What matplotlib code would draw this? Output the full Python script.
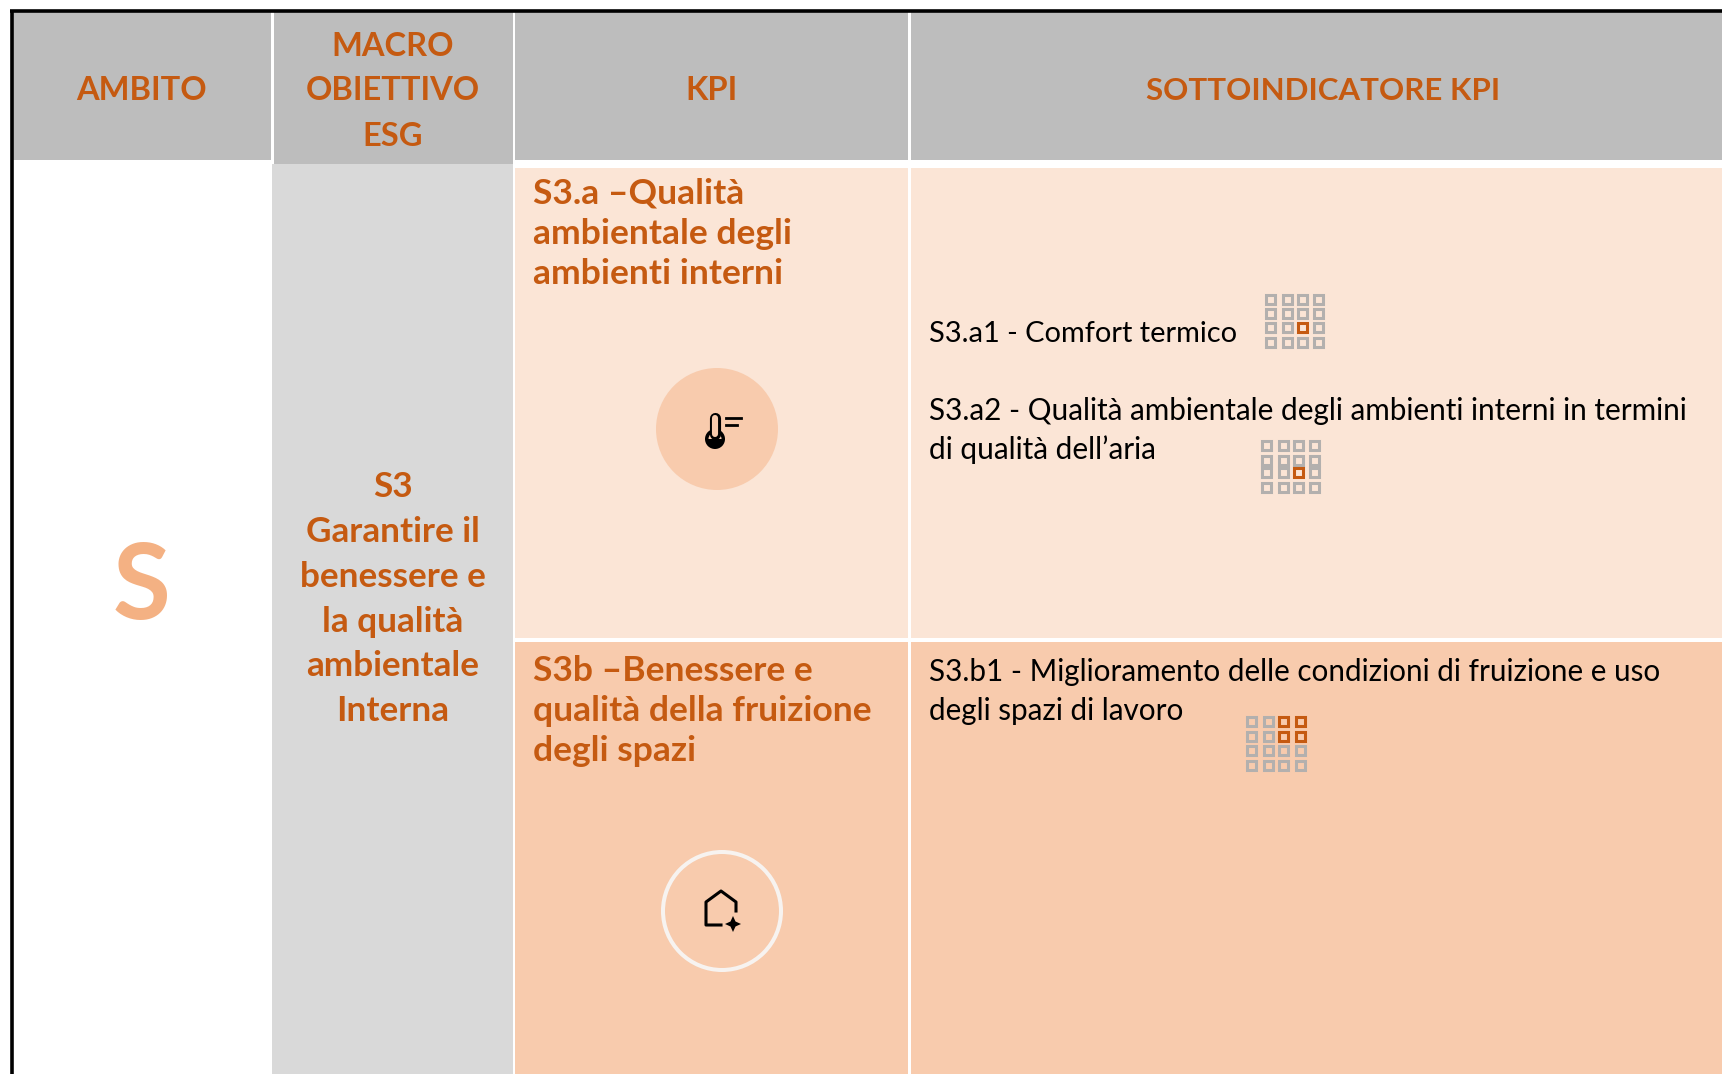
import matplotlib.pyplot as plt
from matplotlib.patches import Rectangle, Circle, Polygon, Wedge

plt.rcParams['font.family'] = ['Lato', 'DejaVu Sans']

W = 1722
H = 1074

orange = '#C55A11'
header_gray = '#BDBDBD'
macro_gray = '#D9D9D9'
light_peach = '#FBE5D6'
peach = '#F8CBAD'
grid_gray = '#B3B0AE'

# testi
headers = ['AMBITO', 'MACRO\nOBIETTIVO\nESG', 'KPI', 'SOTTOINDICATORE KPI']
ambito = 'S'
macro = ['S3', 'Garantire il', 'benessere e', 'la qualità', 'ambientale', 'Interna']
kpi_a = ['S3.a –Qualità', 'ambientale degli', 'ambienti interni']
kpi_b = ['S3b –Benessere e', 'qualità della fruizione', 'degli spazi']
sub_a1 = ['S3.a1 - Comfort termico']
sub_a2 = ['S3.a2 - Qualità ambientale degli ambienti interni in termini', 'di qualità dell’aria']
sub_b1 = ['S3.b1 - Miglioramento delle condizioni di fruizione e uso', 'degli spazi di lavoro']

# colonne della griglia (pixel)
col_left = [13, 274, 515, 911]
col_right = [271, 513, 908, 1722]

# griglie 4x4: celle evidenziate (riga, colonna)
marks_a1 = [(2, 2)]
marks_a2 = [(2, 2)]
marks_b1 = [(0, 2), (0, 3), (1, 2), (1, 3)]

fig = plt.figure(figsize=(W / 100, H / 100), dpi=100)
ax = fig.add_axes([0, 0, 1, 1])
ax.set_xlim(0, W)
ax.set_ylim(H, 0)
ax.axis('off')


def box(x0, y0, x1, y1, color):
    ax.add_patch(Rectangle((x0, y0), x1 - x0, y1 - y0, facecolor=color, edgecolor='none'))


def lines(x, ys, rows, size, ha='left', color='black', weight='normal'):
    for y, row in zip(ys, rows):
        ax.text(x, y, row, fontsize=size, ha=ha, va='center', color=color, fontweight=weight)


def grid_icon(xs, ys, marks):
    for r, y in enumerate(ys):
        for c, x in enumerate(xs):
            col = orange if (r, c) in marks else grid_gray
            ax.add_patch(Rectangle((x - 4.5, y - 4.5), 9, 9, facecolor='none', edgecolor=col, linewidth=2.2))


# intestazione
box(col_left[0], 12, col_right[0], 160, header_gray)
box(col_left[1], 12, col_right[1], 164, header_gray)
box(col_left[2], 12, col_right[2], 160, header_gray)
box(col_left[3], 12, col_right[3], 160, header_gray)

# corpo
box(272, 164, col_right[1], H, macro_gray)
box(col_left[2], 168, col_right[2], 638, light_peach)
box(col_left[3], 168, col_right[3], 638, light_peach)
box(col_left[2], 642, col_right[2], H, peach)
box(col_left[3], 642, col_right[3], H, peach)

# bordo nero
ax.plot([11.5, 11.5], [H, 11], color='black', linewidth=2.6, solid_capstyle='butt')
ax.plot([10, W], [11, 11], color='black', linewidth=2.6, solid_capstyle='butt')

lines(142, [91], [headers[0]], 23.5, 'center', orange, 'bold')
lines(393, [46, 91, 136], headers[1].split('\n'), 23.5, 'center', orange, 'bold')
lines(711, [91], [headers[2]], 23.5, 'center', orange, 'bold')
lines(1323, [91], [headers[3]], 22.5, 'center', orange, 'bold')

lines(142, [589], [ambito], 76, 'center', '#F4B183', 'bold')
lines(393, [487, 532, 577, 622, 666, 711], macro, 25.3, 'center', orange, 'bold')

lines(533, [194, 234, 274], kpi_a, 25.5, 'left', orange, 'bold')
lines(533, [671, 711, 751], kpi_b, 25.5, 'left', orange, 'bold')

lines(929, [334], sub_a1, 20.9)
lines(929, [411, 450], sub_a2, 21.4)
lines(929, [672, 711], sub_b1, 21.3)

grid_icon([1270, 1287, 1302, 1318], [299, 313, 327, 342], marks_a1)
grid_icon([1266, 1283, 1298, 1314], [445, 460, 472, 487], marks_a2)
grid_icon([1251, 1268, 1283, 1300], [721, 736, 750, 765], marks_b1)

# icona termometro
ax.add_patch(Circle((717, 429), 61, facecolor=peach, edgecolor='none'))
ax.plot([715, 715], [418, 434], color='black', linewidth=8, solid_capstyle='round')
ax.plot([715, 715], [418, 434], color=peach, linewidth=4.4, solid_capstyle='round')
ax.add_patch(Circle((715, 439), 10, facecolor='black', edgecolor='none'))
ax.add_patch(Wedge((715, 439), 6.5, 180, 360, facecolor=peach, edgecolor='none'))
ax.plot([726, 741], [418, 418], color='black', linewidth=2)
ax.plot([726, 737], [425, 425], color='black', linewidth=2)

# icona casa
ax.add_patch(Circle((722, 911), 59, facecolor='none', edgecolor='#F7F3F0', linewidth=2.9))
ax.plot([721, 706, 706, 721, 736, 736], [925, 925, 902, 891, 902, 911], color='black', linewidth=2.2)
ax.add_patch(Polygon([(733, 916), (735.5, 921.5), (741, 924), (735.5, 926.5), (733, 932), (730.5, 926.5), (725, 924), (730.5, 921.5)],
                     facecolor='black', edgecolor='none'))

plt.savefig('out.png', dpi=100)
